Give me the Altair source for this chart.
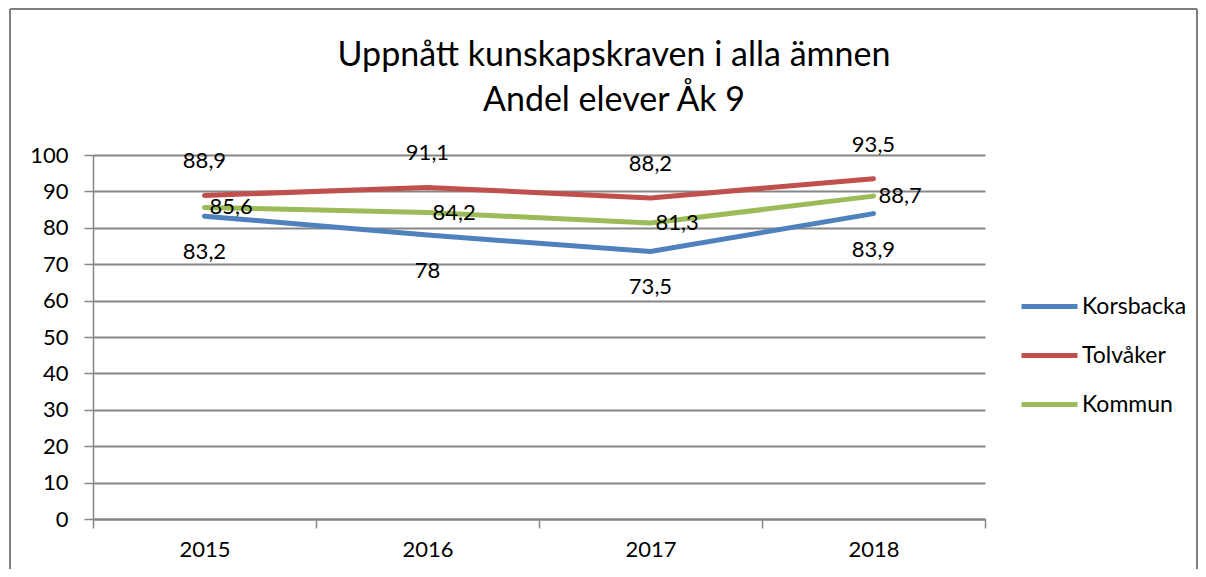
import altair as alt
import pandas as pd

years = ["2015", "2016", "2017", "2018"]
series = ["Korsbacka", "Tolvåker", "Kommun"]
korsbacka = [83.2, 78, 73.5, 83.9]
tolvaker = [88.9, 91.1, 88.2, 93.5]
kommun = [85.6, 84.2, 81.3, 88.7]
colors = ["#4F81BD", "#C0504D", "#9BBB59"]

rows = []
for name, vals in zip(series, [korsbacka, tolvaker, kommun]):
    for y, v in zip(years, vals):
        rows.append({"year": y, "series": name, "value": v,
                     "label": str(v).replace(".", ",")})
df = pd.DataFrame(rows)

FONT = "Lato"
FS = 22
W, H = 892, 364

x = alt.X("year:N", title=None, sort=years,
          scale=alt.Scale(paddingInner=0, paddingOuter=0),
          axis=alt.Axis(labelAngle=0, tickBand="extent", labelFontSize=FS,
                        labelFont=FONT, labelColor="black", tickSize=9,
                        tickColor="#868686", tickWidth=1.5, domainColor="#868686",
                        domainWidth=2, labelPadding=11, grid=False))
y = alt.Y("value:Q", title=None,
          scale=alt.Scale(domain=[0, 100], nice=False),
          axis=alt.Axis(values=list(range(0, 101, 10)), labelFontSize=FS,
                        labelFont=FONT, labelColor="black", tickSize=9,
                        tickColor="#868686", tickWidth=1.5, domainColor="#868686",
                        domainWidth=1.5, labelPadding=16, grid=True,
                        gridColor="#868686", gridWidth=2))
color = alt.Color("series:N", sort=series,
                  scale=alt.Scale(domain=series, range=colors),
                  legend=alt.Legend(title=None, orient="none", legendX=926, legendY=121,
                                    symbolType="stroke", symbolSize=3136,
                                    symbolStrokeWidth=5, labelFontSize=23,
                                    labelFont=FONT, labelColor="black",
                                    rowPadding=6, labelOffset=2))

base = alt.Chart(df)
lines = base.mark_line(strokeWidth=5, strokeCap="round").encode(x=x, y=y, color=color)

lab_style = dict(fontSize=FS, font=FONT, color="black")
lab_k = base.transform_filter(alt.datum.series == "Korsbacka").mark_text(
    dy=36, **lab_style).encode(x=x, y=y, text="label:N")
lab_t = base.transform_filter(alt.datum.series == "Tolvåker").mark_text(
    dy=-34, **lab_style).encode(x=x, y=y, text="label:N")
lab_c = base.transform_filter(alt.datum.series == "Kommun").mark_text(
    dx=5, align="left", **lab_style).encode(x=x, y=y, text="label:N")

one = pd.DataFrame({"a": [0]})
rule_style = dict(color="#7f7f7f", strokeWidth=2)
frame = alt.Chart(one).mark_rule(**rule_style).encode(
    x=alt.value(-83), x2=alt.value(1104), y=alt.value(-146), y2=alt.value(-146))
frame_l = alt.Chart(one).mark_rule(**rule_style).encode(
    x=alt.value(-83), x2=alt.value(-83), y=alt.value(-146), y2=alt.value(420))
frame_r = alt.Chart(one).mark_rule(**rule_style).encode(
    x=alt.value(1104), x2=alt.value(1104), y=alt.value(-146), y2=alt.value(420))

chart = alt.layer(frame, frame_l, frame_r, lines, lab_k, lab_t, lab_c).properties(
    width=W, height=H,
    title=alt.TitleParams(["Uppnått kunskapskraven i alla ämnen", "Andel elever Åk 9"],
                          fontSize=34, font=FONT, fontWeight="normal", color="black",
                          anchor="middle", dx=75, lineHeight=45, offset=-110),
    autosize=alt.AutoSizeParams(type="none"),
    padding={"left": 85, "top": 147, "right": 213, "bottom": 50},
).configure_view(stroke=None)

chart.save("out.html", embed_options={"renderer": "svg", "actions": False})
